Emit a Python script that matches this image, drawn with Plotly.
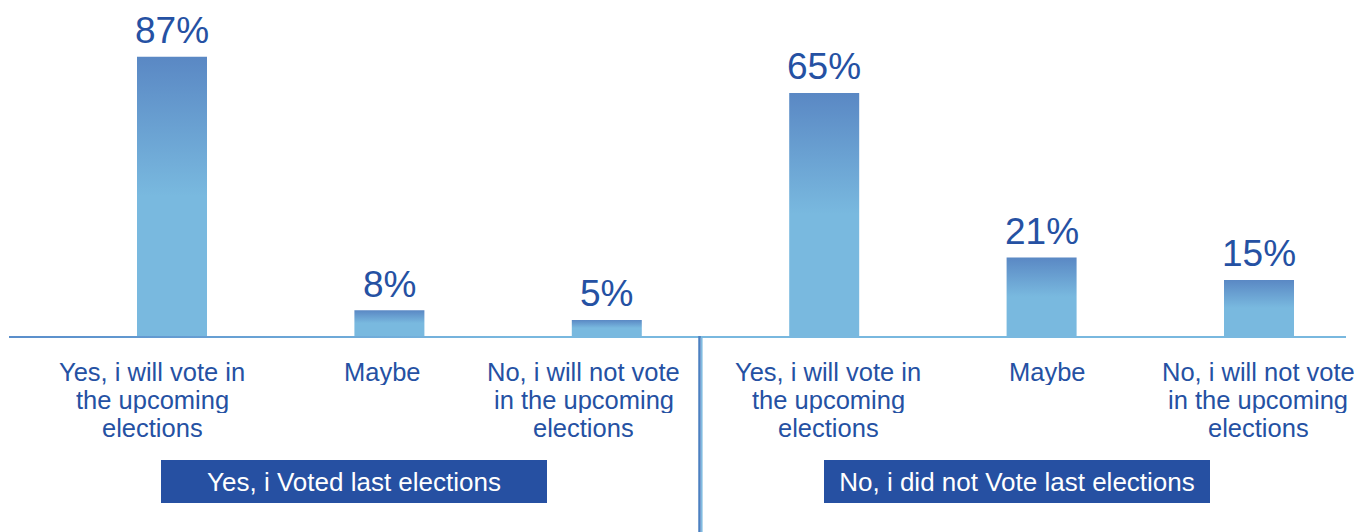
import plotly.graph_objects as go

# ---- data -------------------------------------------------------------
categories = [
    "Yes, i will vote in<br>the upcoming<br>elections",
    "Maybe",
    "No, i will not vote<br>in the upcoming<br>elections",
]
groups = ["Yes, i Voted last elections", "No, i did not Vote last elections"]
voted_last = [87, 8, 5]
not_voted_last = [65, 21, 15]
value_labels_voted = ["87%", "8%", "5%"]
value_labels_not = ["65%", "21%", "15%"]

# ---- layout / style constants ----------------------------------------
W, H = 1358, 532
BASE_PX = 336            # pixel row of the baseline
FIRST_PX = 172           # pixel centre of the first bar
SLOT_PX = 217.4          # pixel distance between bar centres
BAR_W = 70 / SLOT_PX     # bar width in x units
PX_PER_PCT = [3.21, 3.74]  # vertical scale of each panel
LABEL_SHIFTS = [-20, -7, -23, 4, 6, -1]
LINE_Y_PX = [372, 399.5, 428]
GROUP_X_PX = [354, 1017]

FONT = "Liberation Sans, Arial, sans-serif"
DARK_BAR = "#5a88c4"
LIGHT_BAR = "#79b9df"
TEXT_BLUE = "#2551a3"
BOX_BLUE = "#2650a2"

fig = go.Figure()

x_range = [-FIRST_PX / SLOT_PX, (W - FIRST_PX) / SLOT_PX]


def y_range(scale):
    return [-(H - BASE_PX) / scale, BASE_PX / scale]


def px_to_x(px):
    return x_range[0] + px / SLOT_PX


# baseline with a horizontal gradient
fig.add_trace(go.Scatter(
    x=[px_to_x(9), px_to_x(1346), px_to_x(1346), px_to_x(9), px_to_x(9)],
    y=[0, 0, -2 / PX_PER_PCT[0], -2 / PX_PER_PCT[0], 0],
    mode="lines", fill="toself",
    line=dict(width=0, color="rgba(0,0,0,0)"),
    fillgradient=dict(type="horizontal",
                      colorscale=[[0, "#5a8ecb"], [0.38, "#79b8df"], [1, "#79b8df"]]),
    hoverinfo="skip", yaxis="y",
))

# bars with a vertical gradient
annotations = []
for g, (vals, vlabels) in enumerate([(voted_last, value_labels_voted),
                                      (not_voted_last, value_labels_not)]):
    yax = "y" if g == 0 else "y2"
    for j, (v, lab) in enumerate(zip(vals, vlabels)):
        i = g * len(categories) + j
        fig.add_trace(go.Scatter(
            x=[i - BAR_W / 2, i + BAR_W / 2, i + BAR_W / 2, i - BAR_W / 2, i - BAR_W / 2],
            y=[0, 0, v, v, 0],
            mode="lines", fill="toself",
            line=dict(width=0, color="rgba(0,0,0,0)"),
            fillgradient=dict(type="vertical",
                              colorscale=[[0, LIGHT_BAR], [0.5, LIGHT_BAR], [1, DARK_BAR]]),
            hoverinfo="skip", yaxis=yax,
        ))
        annotations.append(dict(
            x=i, y=v, xref="x", yref=yax, text=lab, showarrow=False,
            yanchor="middle", yshift=26,
            font=dict(family=FONT, size=37, color=TEXT_BLUE),
        ))
        # category label, one annotation per line (tight line spacing)
        for k, line in enumerate(categories[j].split("<br>")):
            annotations.append(dict(
                x=i, y=1 - LINE_Y_PX[k] / H, xref="x", yref="paper",
                text=line, showarrow=False, xshift=LABEL_SHIFTS[i],
                xanchor="center", yanchor="middle", height=26,
                borderpad=0, valign="middle",
                font=dict(family=FONT, size=25.5, color=TEXT_BLUE),
            ))

# group captions in filled boxes
for g, name in enumerate(groups):
    annotations.append(dict(
        x=GROUP_X_PX[g] / W, y=1 - 481.5 / H, xref="paper", yref="paper",
        text=name, showarrow=False, xanchor="center", yanchor="middle",
        width=386, height=43, bgcolor=BOX_BLUE, borderpad=0, borderwidth=0,
        font=dict(family=FONT, size=26, color="white"),
    ))

# vertical divider between the two panels
shapes = [
    dict(type="line", xref="paper", yref="paper",
         x0=699.5 / W, x1=699.5 / W, y0=0, y1=(H - BASE_PX) / H,
         line=dict(color="#4c80c1", width=2.5)),
    dict(type="line", xref="paper", yref="paper",
         x0=701.8 / W, x1=701.8 / W, y0=0, y1=(H - BASE_PX) / H,
         line=dict(color="#7ab8df", width=1.5)),
]

fig.update_layout(
    width=W, height=H,
    margin=dict(l=0, r=0, t=0, b=0),
    paper_bgcolor="white", plot_bgcolor="white",
    showlegend=False,
    xaxis=dict(range=x_range, visible=False, fixedrange=True),
    yaxis=dict(range=y_range(PX_PER_PCT[0]), visible=False, fixedrange=True),
    yaxis2=dict(range=y_range(PX_PER_PCT[1]), visible=False, fixedrange=True,
                overlaying="y"),
    annotations=annotations,
    shapes=shapes,
)

fig.write_html("out.html")
